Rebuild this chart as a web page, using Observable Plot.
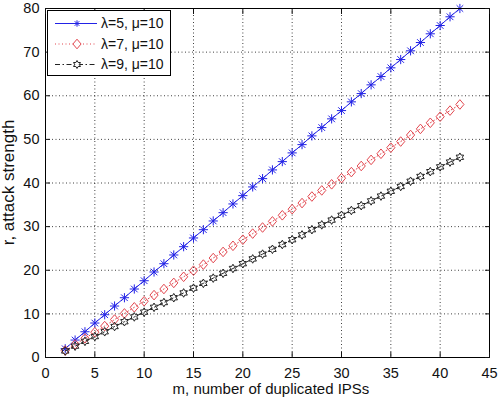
<!DOCTYPE html>
<html><head><meta charset="utf-8">
<script src="https://cdn.jsdelivr.net/npm/d3@7"></script>
<script src="https://cdn.jsdelivr.net/npm/@observablehq/plot@0.6"></script>
<style>
body{margin:0;background:#fff}
#chart{position:relative;width:499px;height:398px;overflow:hidden}
</style>
</head><body><div id="chart"></div>
<script>
const m = [2,3,4,5,6,7,8,9,10,11,12,13,14,15,16,17,18,19,20,21,22,23,24,25,26,27,28,29,30,31,32,33,34,35,36,37,38,39,40,41,42];
const r5 = [2.0,4.0,5.9,7.9,9.8,11.8,13.7,15.7,17.6,19.6,21.5,23.5,25.4,27.4,29.3,31.3,33.2,35.2,37.1,39.1,41.0,43.0,44.9,46.9,48.8,50.8,52.7,54.7,56.6,58.6,60.5,62.5,64.4,66.4,68.3,70.3,72.2,74.2,76.1,78.1,80.0];
const r7 = [1.6,3.0,4.4,5.8,7.2,8.7,10.1,11.5,12.9,14.3,15.7,17.1,18.5,19.9,21.3,22.8,24.2,25.6,27.0,28.4,29.8,31.2,32.6,34.0,35.4,36.9,38.3,39.7,41.1,42.5,43.9,45.3,46.7,48.1,49.5,51.0,52.4,53.8,55.2,56.6,58.0];
const r9 = [1.5,2.6,3.7,4.8,5.9,7.1,8.2,9.3,10.4,11.5,12.6,13.7,14.8,15.9,17.0,18.2,19.3,20.4,21.5,22.6,23.7,24.8,25.9,27.0,28.1,29.3,30.4,31.5,32.6,33.7,34.8,35.9,37.0,38.1,39.2,40.4,41.5,42.6,43.7,44.8,45.9];
const seriesLabels = ["λ=5, μ=10", "λ=7, μ=10", "λ=9, μ=10"];
const xTicks = [0,5,10,15,20,25,30,35,40,45];
const yTicks = [0,10,20,30,40,50,60,70,80];
const xLabel = "m, number of duplicated IPSs";
const yLabel = "r, attack strength";

// marker shapes (MATLAB-like)
const asterisk = {draw(ctx, size){ const r = Math.sqrt(size/Math.PI), d = r*0.72;
  ctx.moveTo(-r,0); ctx.lineTo(r,0); ctx.moveTo(0,-r); ctx.lineTo(0,r);
  ctx.moveTo(-d,-d); ctx.lineTo(d,d); ctx.moveTo(-d,d); ctx.lineTo(d,-d); }};
const diamond = {draw(ctx, size){ const r = Math.sqrt(size/Math.PI);
  ctx.moveTo(0,-r); ctx.lineTo(r*0.85,0); ctx.lineTo(0,r); ctx.lineTo(-r*0.85,0); ctx.closePath(); }};
const hexagram = {draw(ctx, size){ const r = Math.sqrt(size/Math.PI), ri = r*0.577;
  for (let k=0;k<12;k++){ const a = -Math.PI/2 + k*Math.PI/6, rr = k%2 ? ri : r;
    const px = rr*Math.cos(a), py = rr*Math.sin(a); k ? ctx.lineTo(px,py) : ctx.moveTo(px,py); }
  ctx.closePath(); }};

const styles = [
  {color:"#2222e6", dash:null, symbol:asterisk, r:4.6, lr:3.2},
  {color:"#e2474f", dash:"1,2.5", symbol:diamond, r:4.8, lr:4.8},
  {color:"#222222", dash:"5,2.5,1.5,2.5", symbol:hexagram, r:4.3, lr:4.0}
];
const seriesValues = [r5, r7, r9];
const data = seriesValues.map((vals, i) => m.map((x, j) => ({x, y: vals[j], s: seriesLabels[i]})));

const W = 499, H = 398, mL = 45, mR = 10, mT = 8, mB = 41;
const FONT = "'Liberation Sans', Arial, sans-serif";

const marks = [
  Plot.gridX(xTicks.slice(1,-1), {stroke:"#000", strokeOpacity:0.75, strokeDasharray:"1,2.5"}),
  Plot.gridY(yTicks.slice(1,-1), {stroke:"#000", strokeOpacity:0.75, strokeDasharray:"1,2.5"}),
];
data.forEach((d, i) => {
  const st = styles[i];
  marks.push(Plot.line(d, {x:"x", y:"y", stroke:st.color, strokeWidth:1, strokeDasharray:st.dash}));
  marks.push(Plot.dot(d, {x:"x", y:"y", symbol:()=>st.symbol, r:st.r, stroke:st.color, fill:"none", strokeWidth:1}));
});
marks.push(
  Plot.frame({stroke:"#000", strokeWidth:1}),
  Plot.axisX(xTicks, {anchor:"bottom", tickSize:-5, tickPadding:15, label:null, fontSize:14.5}),
  Plot.axisX(xTicks, {anchor:"top", tickSize:-5, tickFormat:()=>"", label:null}),
  Plot.axisY(yTicks, {anchor:"left", tickSize:-5, tickPadding:11, label:null, fontSize:14.5}),
  Plot.axisY(yTicks, {anchor:"right", tickSize:-5, tickFormat:()=>"", label:null})
);

const chart = Plot.plot({
  width:W, height:H,
  marginLeft:mL, marginRight:mR, marginTop:mT, marginBottom:mB,
  x:{domain:[0,45]},
  y:{domain:[0,80]},
  style:{fontFamily:FONT, fontSize:"14.5px", color:"#111", background:"white", overflow:"visible"},
  marks
});
document.getElementById("chart").appendChild(chart);

const svg = d3.select(chart);
// axis titles
const cx = mL + (W - mL - mR) / 2, cy = mT + (H - mT - mB) / 2;
svg.append("text").attr("x", cx + 4).attr("y", H - 3.8).attr("text-anchor","middle")
  .attr("font-family",FONT).attr("font-size",15).attr("fill","#111").text(xLabel);
svg.append("text").attr("transform",`translate(14,${cy}) rotate(-90)`).attr("text-anchor","middle")
  .attr("font-family",FONT).attr("font-size",17).attr("fill","#111").text(yLabel);

// legend
const lg = svg.append("g").attr("font-family",FONT).attr("font-size",14).attr("text-anchor","start");
lg.append("rect").attr("x",47.5).attr("y",10.5).attr("width",123).attr("height",65).attr("fill","white").attr("stroke","#000");
seriesLabels.forEach((lab, i) => {
  const st = styles[i], yy = 23.5 + i*20.5;
  lg.append("line").attr("x1",55).attr("x2",97).attr("y1",yy).attr("y2",yy).attr("stroke",st.color).attr("stroke-width",1).attr("stroke-dasharray",st.dash);
  lg.append("path").attr("d", d3.symbol(st.symbol, st.lr*st.lr*Math.PI)()).attr("transform",`translate(77,${yy})`).attr("fill","white").attr("stroke",st.color);
  lg.append("text").attr("x",101).attr("y",yy).attr("dy","0.35em").attr("fill","#111").text(lab);
});
</script>
</body></html>
